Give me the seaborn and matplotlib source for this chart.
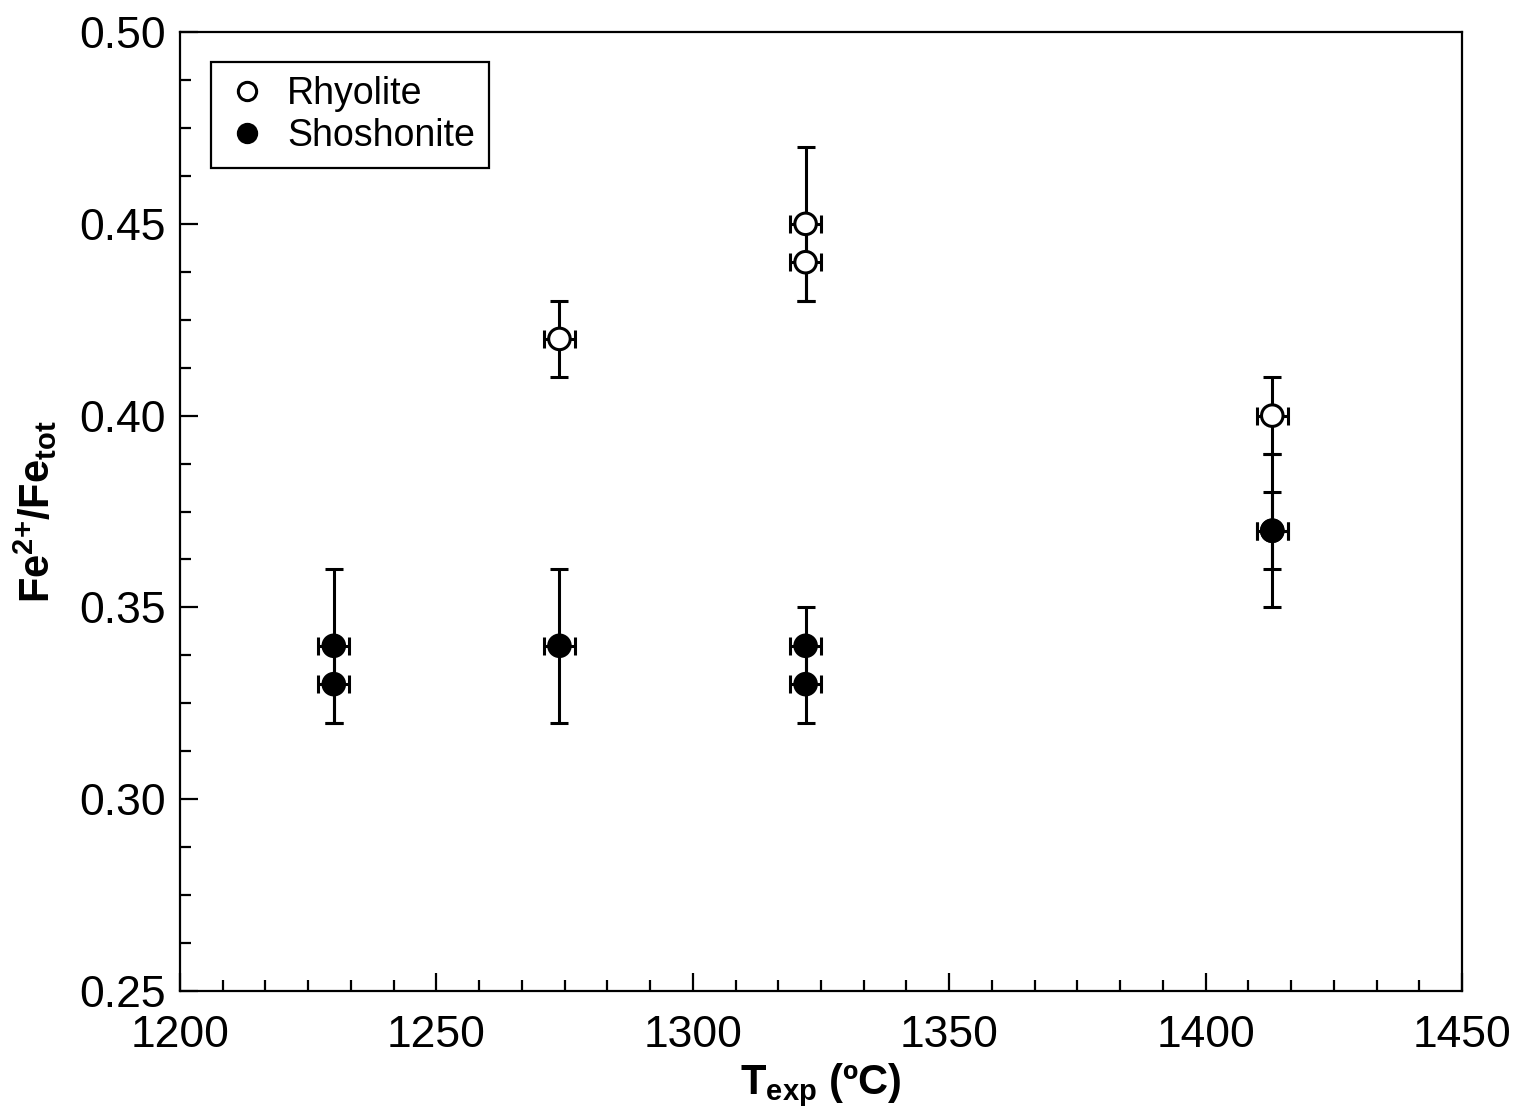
import numpy as np
import pandas as pd
import matplotlib
matplotlib.use("Agg")
import matplotlib.pyplot as plt
import seaborn as sns
from matplotlib.ticker import MultipleLocator

# ---- data ----
rhy_T = [1274, 1322, 1322, 1413]
rhy_fe = [0.42, 0.45, 0.44, 0.40]
rhy_yerr = [0.01, 0.02, 0.01, 0.01]
rhy_xerr = [3, 3, 3, 3]

sho_T = [1230, 1230, 1274, 1322, 1322, 1413, 1413]
sho_fe = [0.34, 0.33, 0.34, 0.34, 0.33, 0.37, 0.37]
sho_yerr = [0.02, 0.01, 0.02, 0.01, 0.01, 0.01, 0.02]
sho_xerr = [3, 3, 3, 3, 3, 3, 3]

series_names = ["Rhyolite", "Shoshonite"]
x_ticks = [1200, 1250, 1300, 1350, 1400, 1450]
y_ticks = [0.25, 0.30, 0.35, 0.40, 0.45, 0.50]

df = pd.DataFrame({
    "T": rhy_T + sho_T,
    "fe": rhy_fe + sho_fe,
    "yerr": rhy_yerr + sho_yerr,
    "xerr": rhy_xerr + sho_xerr,
    "type": [series_names[0]] * len(rhy_T) + [series_names[1]] * len(sho_T),
})

sns.set_style("ticks")
plt.rcParams["font.family"] = ["Liberation Sans", "DejaVu Sans"]
plt.rcParams["mathtext.fontset"] = "custom"
plt.rcParams["mathtext.rm"] = "Liberation Sans"
plt.rcParams["mathtext.bf"] = "Liberation Sans:bold"
plt.rcParams["mathtext.it"] = "Liberation Sans:italic"
plt.rcParams["text.color"] = "black"
plt.rcParams["axes.labelcolor"] = "black"
plt.rcParams["xtick.color"] = "black"
plt.rcParams["ytick.color"] = "black"

fig = plt.figure(figsize=(15.16, 11.13), dpi=100)
ax = fig.add_axes([0.1187, 0.1096, 0.8457, 0.8616])

# error bars
for name in series_names:
    sub = df[df["type"] == name]
    ax.errorbar(sub["T"], sub["fe"], yerr=sub["yerr"], xerr=sub["xerr"],
                fmt="none", ecolor="black", elinewidth=2.2, capsize=6.5,
                capthick=2.2, zorder=2)

sns.scatterplot(data=df, x="T", y="fe", hue="type", style="type",
                hue_order=series_names,
                palette={"Rhyolite": "white", "Shoshonite": "black"},
                markers={"Rhyolite": "o", "Shoshonite": "o"},
                s=240, edgecolor="black", linewidth=2.2, ax=ax, zorder=3)

ax.set_xlim(1200, 1450)
ax.set_ylim(0.25, 0.50)
ax.set_xticks(x_ticks)
ax.set_yticks(y_ticks)
ax.set_xticklabels([str(v) for v in x_ticks])
ax.set_yticklabels([f"{v:.2f}" for v in y_ticks])
ax.xaxis.set_minor_locator(MultipleLocator(50 / 6))
ax.yaxis.set_minor_locator(MultipleLocator(0.0125))
ax.tick_params(axis="both", which="major", direction="in", length=13, width=1.6,
               labelsize=32, pad=10, top=False, right=False, colors="black")
ax.tick_params(axis="both", which="minor", direction="in", length=8, width=1.6,
               top=False, right=False)
ax.tick_params(axis="x", which="major", pad=17)

for sp in ax.spines.values():
    sp.set_visible(True)
    sp.set_linewidth(1.6)
    sp.set_color("black")

ax.set_xlabel(r"$\mathbf{T_{exp}}$ (ºC)", fontsize=30, fontweight="bold",
              labelpad=4, color="black")
ax.set_ylabel(r"$\mathbf{Fe^{2{+}}/Fe_{tot}}$", fontsize=30, fontweight="bold",
              labelpad=15, color="black")

handles, labels = ax.get_legend_handles_labels()
leg = ax.legend(handles, labels, loc="upper left", bbox_to_anchor=(0.024, 0.969),
                borderaxespad=0, fontsize=27, frameon=True, fancybox=False,
                edgecolor="black", framealpha=1, handletextpad=0.45,
                borderpad=0.38, labelspacing=0.15, markerscale=0.85,
                handlelength=1.2, labelcolor="black")
leg.get_frame().set_linewidth(1.6)

fig.savefig("out.png", dpi=100, facecolor="white")
